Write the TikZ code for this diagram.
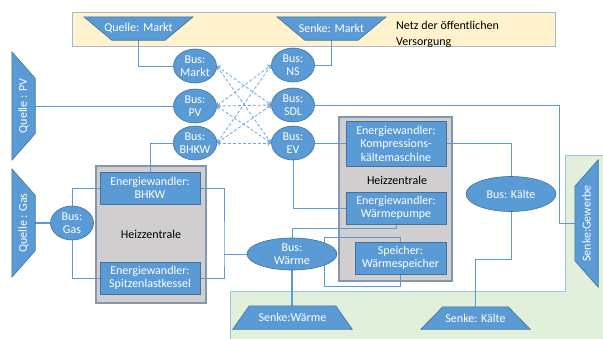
\documentclass[tikz,border=0pt]{standalone}
\usepackage{fontspec}
\usepackage{graphicx}
\setmainfont{Carlito}
\usetikzlibrary{shapes.geometric,arrows.meta}
\definecolor{blueF}{HTML}{5B9BD5}
\definecolor{blueD}{HTML}{41719C}
\definecolor{lineC}{HTML}{5B9BD5}
\definecolor{dashC}{HTML}{6FA8DC}
\definecolor{grayF}{HTML}{D0CECE}
\definecolor{grayB}{HTML}{8497B0}
\definecolor{yelF}{HTML}{FFF2CC}
\definecolor{yelB}{HTML}{A5B8CF}
\definecolor{grnF}{HTML}{E2EFDA}
\definecolor{grnB}{HTML}{9DC3E6}
\pgfdeclarelayer{back}\pgfdeclarelayer{lines}\pgfdeclarelayer{shp}
\pgfsetlayers{back,lines,shp,main}
\tikzset{
 txt/.style={font=\fontsize{12}{13.5}\selectfont, align=center, inner sep=0pt},
 bus/.style={txt, ellipse, fill=blueF, draw=blueD, line width=0.6pt, text=white, minimum width=43pt, minimum height=34pt},
 ew/.style={txt, rectangle, fill=blueF, draw=blueD, line width=0.6pt, text=white},
 tnode/.style={txt, rectangle, text=white},
 trap/.style={fill=blueF, draw=blueD, line width=0.6pt},
 zentrale/.style={txt, rectangle, fill=grayF, draw=grayB, line width=1.2pt, text=black},
 conn/.style={draw=lineC, line width=0.8pt},
 dconn/.style={draw=dashC, line width=0.8pt, dash pattern=on 3pt off 2pt, {Straight Barb[length=2.5pt,width=5pt]}-{Straight Barb[length=2.5pt,width=5pt]}},
}
\newcommand\trapDown[2]{\draw[trap] (#1.north west) -- (#1.north east) -- ([xshift=-#2pt]#1.south east) -- ([xshift=#2pt]#1.south west) -- cycle;}
\newcommand\trapUp[2]{\draw[trap] (#1.south west) -- (#1.south east) -- ([xshift=-#2pt]#1.north east) -- ([xshift=#2pt]#1.north west) -- cycle;}
\newcommand\trapLeft[2]{\draw[trap] (#1.north west) -- (#1.south west) -- ([yshift=#2pt]#1.south east) -- ([yshift=-#2pt]#1.north east) -- cycle;}
\newcommand\trapRight[2]{\draw[trap] (#1.north east) -- (#1.south east) -- ([yshift=#2pt]#1.south west) -- ([yshift=-#2pt]#1.north west) -- cycle;}
\begin{document}
\begin{tikzpicture}[x=1pt,y=-1pt]
\useasboundingbox (0,0) rectangle (603,338);
\begin{pgfonlayer}{back}
 \fill[white] (0,0) rectangle (603,338);
 \draw[fill=grnF, draw=grnB, line width=1pt] (230,291) -- (565,291) -- (565,155) -- (606,155) -- (606,341) -- (230,341) -- cycle;
 \node[rectangle, fill=yelF, draw=yelB, line width=1pt, minimum width=483pt, minimum height=34pt, inner sep=0pt] (netz) at (313.5,29) {};
 \node[zentrale, minimum width=110pt, minimum height=137pt] (hzL) at (151,234.5) {Heizzentrale};
 \node[zentrale, minimum width=113pt, minimum height=164pt] (hzR) at (395.5,199) {};
 \node[txt, text=black] (hzRt) at (397,180) {Heizzentrale};
\end{pgfonlayer}
\node[txt, text=black, anchor=west, align=left, font=\fontsize{12}{16}\selectfont] (netzT) at (396,34) {Netz der öffentlichen\\Versorgung};
% buses
\node[bus] (bM) at (195,66) {Bus:\\Markt};
\node[bus] (bPV) at (195,106) {Bus:\\PV};
\node[bus] (bB) at (195,143) {Bus:\\BHKW};
\node[bus] (bNS) at (293,65) {Bus:\\NS};
\node[bus] (bSDL) at (293,105) {Bus:\\SDL};
\node[bus] (bEV) at (293,143) {Bus:\\EV};
\node[bus] (bGas) at (72,223) {Bus:\\Gas};
\node[bus, minimum width=90pt, minimum height=32pt] (bW) at (292,254) {Bus:\\Wärme};
\node[bus, minimum width=90pt, minimum height=35pt] (bK) at (511,194) {Bus: Kälte};
% converters
\node[ew, minimum width=100pt, minimum height=32pt] (eB) at (150,188) {Energiewandler:\\BHKW};
\node[ew, minimum width=100pt, minimum height=32pt] (eS) at (150,278) {Energiewandler:\\Spitzenlastkessel};
\node[ew, minimum width=100pt, minimum height=45pt] (eK) at (396,143.5) {Energiewandler:\\Kompressions-\\kältemaschine};
\node[ew, minimum width=100pt, minimum height=32pt] (eWP) at (396,208) {Energiewandler:\\Wärmepumpe};
\node[ew, minimum width=91pt, minimum height=32pt] (sp) at (400.5,258) {Speicher:\\Wärmespeicher};
% sources and sinks
\node[tnode, minimum width=109pt, minimum height=23pt] (qm) at (138.5,28.5) {Quelle: Markt};
\node[tnode, minimum width=109pt, minimum height=23pt] (sm) at (331.5,28.5) {Senke: Markt};
\node[tnode, minimum width=23pt, minimum height=108pt] (qpv) at (23.5,106) {\rotatebox{90}{Quelle : PV}};
\node[tnode, minimum width=23pt, minimum height=108pt] (qgas) at (23.5,223) {\rotatebox{90}{Quelle : Gas}};
\node[tnode, minimum width=23pt, minimum height=127pt] (sg) at (586.5,223.5) {\rotatebox{90}{Senke:Gewerbe}};
\node[tnode, minimum width=119pt, minimum height=23pt] (sw) at (292.5,317.5) {Senke:Wärme};
\node[tnode, minimum width=109pt, minimum height=22pt] (sk) at (475.5,318) {Senke: Kälte};
\begin{pgfonlayer}{shp}
 \trapDown{qm}{28}
 \trapDown{sm}{28}
 \trapLeft{qpv}{26.5}
 \trapLeft{qgas}{26.5}
 \trapRight{sg}{26.5}
 \trapUp{sw}{16.5}
 \trapUp{sk}{22}
\end{pgfonlayer}
\begin{pgfonlayer}{lines}
 \draw[conn] (qm.south) |- (bM.west);
 \draw[conn] (sm.south) |- (bNS.east);
 \draw[conn] (qpv.east) -- (bPV.west);
 \draw[conn] (bB.west) -| (eB.north);
 \draw[conn] (bSDL.east) -| ([xshift=-15pt]sg.west) -- (sg.west);
 \draw[conn] (bEV.east) -- (bEV.east -| eK.west);
 \draw[conn] (bEV.south) |- (eWP.west);
 \draw[conn] (eK.east) -| (bK.north);
 \draw[conn] (bK.south) -- ++(0,47.5) -| (sk.north);
 \draw[conn, line width=1.5pt] (qgas.east) -- (bGas.west);
 \draw[conn] (bGas.north) |- (eB.west);
 \draw[conn] (bGas.south) |- (eS.west);
 \coordinate (jL) at (224,254);
 \draw[conn] (eB.east) -| (jL) |- (eS.east);
 \draw[conn] (jL) -- (bW.west);
 \draw[conn, line width=1.5pt] (bW.south) -- (bW.south |- sw.north);
 \draw[conn] (bW.north) |- ([yshift=-4pt]eWP.south) -- (eWP.south);
 \coordinate (jS1) at (324,237);
 \coordinate (jS2) at (324,286);
 \draw[conn] (sp.north) |- (jS1) -- (jS2) -| (sp.south);
 \draw[dconn] (bM.east) -- (bSDL.west);
 \draw[dconn] (bM.east) -- (bEV.west);
 \draw[dconn] (bPV.east) -- (bNS.west);
 \draw[dconn] (bPV.east) -- (bSDL.west);
 \draw[dconn] (bPV.east) -- (bEV.west);
 \draw[dconn] (bB.east) -- (bNS.west);
 \draw[dconn] (bB.east) -- (bSDL.west);
 \draw[dconn] (bB.east) -- (bEV.west);
\end{pgfonlayer}
\end{tikzpicture}
\end{document}
